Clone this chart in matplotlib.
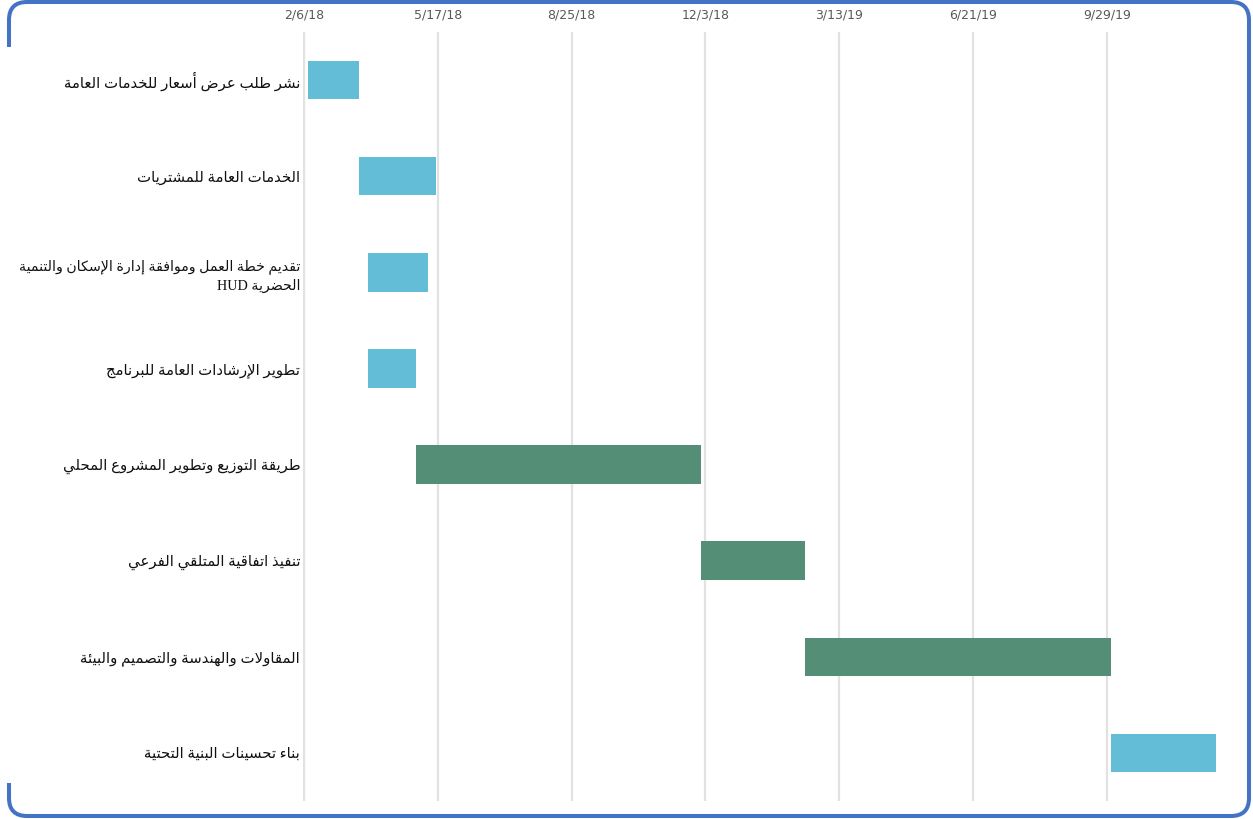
import matplotlib
matplotlib.use("Agg")
import matplotlib.pyplot as plt
import matplotlib.dates as mdates
from matplotlib.patches import FancyBboxPatch, Rectangle
import pandas as pd

# ------------------------------
# DATA
# ------------------------------
tasks = [
    "نشر طلب عرض أسعار للخدمات العامة",
    "الخدمات العامة للمشتريات",
    "تقديم خطة العمل وموافقة إدارة الإسكان والتنمية\nالحضرية HUD",
    "تطوير الإرشادات العامة للبرنامج",
    "طريقة التوزيع وتطوير المشروع المحلي",
    "تنفيذ اتفاقية المتلقي الفرعي",
    "المقاولات والهندسة والتصميم والبيئة",
    "بناء تحسينات البنية التحتية",
]
start_dates = ["2018-02-09", "2018-03-19", "2018-03-26", "2018-03-26",
               "2018-05-01", "2018-11-30", "2019-02-15", "2019-10-02"]
end_dates = ["2018-03-19", "2018-05-16", "2018-05-10", "2018-05-01",
             "2018-11-30", "2019-02-15", "2019-10-02", "2019-12-19"]
phase = ["blue", "blue", "blue", "blue", "green", "green", "green", "blue"]

tick_labels = ["2/6/18", "5/17/18", "8/25/18", "12/3/18", "3/13/19", "6/21/19", "9/29/19"]
axis_start = "2018-02-06"
axis_end = "2020-01-07"

COLORS = {"blue": "#63BDD7", "green": "#548E76"}

# ------------------------------
# ARABIC SHAPING (presentation forms + RTL order)
# ------------------------------
# char -> (first presentation-form code point, number of forms)
FORMS = {
    "\u0621": (0xFE80, 1), "\u0622": (0xFE81, 2), "\u0623": (0xFE83, 2),
    "\u0624": (0xFE85, 2), "\u0625": (0xFE87, 2), "\u0626": (0xFE89, 4),
    "\u0627": (0xFE8D, 2), "\u0628": (0xFE8F, 4), "\u0629": (0xFE93, 2),
    "\u062A": (0xFE95, 4), "\u062B": (0xFE99, 4), "\u062C": (0xFE9D, 4),
    "\u062D": (0xFEA1, 4), "\u062E": (0xFEA5, 4), "\u062F": (0xFEA9, 2),
    "\u0630": (0xFEAB, 2), "\u0631": (0xFEAD, 2), "\u0632": (0xFEAF, 2),
    "\u0633": (0xFEB1, 4), "\u0634": (0xFEB5, 4), "\u0635": (0xFEB9, 4),
    "\u0636": (0xFEBD, 4), "\u0637": (0xFEC1, 4), "\u0638": (0xFEC5, 4),
    "\u0639": (0xFEC9, 4), "\u063A": (0xFECD, 4), "\u0641": (0xFED1, 4),
    "\u0642": (0xFED5, 4), "\u0643": (0xFED9, 4), "\u0644": (0xFEDD, 4),
    "\u0645": (0xFEE1, 4), "\u0646": (0xFEE5, 4), "\u0647": (0xFEE9, 4),
    "\u0648": (0xFEED, 2), "\u0649": (0xFEEF, 2), "\u064A": (0xFEF1, 4),
}
LAM_ALEF = {"\u0622": 0xFEF5, "\u0623": 0xFEF7, "\u0625": 0xFEF9, "\u0627": 0xFEFB}


def shape_line(line):
    # merge lam + alef into ligature tokens
    tokens = []
    i = 0
    while i < len(line):
        ch = line[i]
        if ch == "\u0644" and i + 1 < len(line) and line[i + 1] in LAM_ALEF:
            tokens.append((LAM_ALEF[line[i + 1]], 2))
            i += 2
        elif ch in FORMS:
            tokens.append(FORMS[ch])
            i += 1
        else:
            tokens.append(ch)
            i += 1

    out = []
    for k, tok in enumerate(tokens):
        if isinstance(tok, str):
            out.append(tok)
            continue
        base, n = tok
        prev = tokens[k - 1] if k > 0 else None
        nxt = tokens[k + 1] if k + 1 < len(tokens) else None
        joins_prev = isinstance(prev, tuple) and prev[1] == 4
        joins_next = n == 4 and isinstance(nxt, tuple) and nxt[1] > 1
        if joins_prev and joins_next:
            idx = 3
        elif joins_prev:
            idx = 1
        elif joins_next:
            idx = 2
        else:
            idx = 0
        if idx >= n:
            idx = 0
        out.append(chr(base + idx))
    shaped = "".join(out)

    # visual order: reverse runs, keep latin runs left-to-right
    runs, cur, cur_latin = [], "", None
    for ch in shaped:
        is_latin = ch.isascii() and ch.isalnum()
        if cur and is_latin != cur_latin:
            runs.append((cur, cur_latin))
            cur = ""
        cur += ch
        cur_latin = is_latin
    if cur:
        runs.append((cur, cur_latin))
    return "".join(r if lat else r[::-1] for r, lat in reversed(runs))


def shape(text):
    return "\n".join(shape_line(l) for l in text.split("\n"))


# ------------------------------
# PLOT
# ------------------------------
starts = pd.to_datetime(start_dates)
ends = pd.to_datetime(end_dates)
left = mdates.date2num(starts)
width = mdates.date2num(ends) - left
ticks = mdates.date2num(pd.to_datetime(tick_labels, format="%m/%d/%y"))

fig = plt.figure(figsize=(12.53, 8.19), dpi=100)
ax = fig.add_axes([303 / 1253, 1 - 801 / 819, (1241 - 303) / 1253, (801 - 32) / 819])

ypos = list(range(len(tasks)))
ax.barh(ypos, width, left=left, height=0.4,
        color=[COLORS[p] for p in phase], zorder=3)

ax.set_xlim(mdates.date2num(pd.Timestamp(axis_start)) - 0.6,
            mdates.date2num(pd.Timestamp(axis_end)))
ax.set_ylim(len(tasks) - 0.5, -0.5)

ax.xaxis.tick_top()
ax.set_xticks(ticks)
ax.set_xticklabels(tick_labels, fontsize=9, color="#595959", family="DejaVu Sans")
ax.tick_params(axis="x", length=0, pad=7.5)
ax.grid(axis="x", color="#E2E2E2", linewidth=1.6, zorder=0)

ax.set_yticks(ypos)
ylabels = ax.set_yticklabels([shape(t) for t in tasks], fontsize=10.7, color="#111111",
                             family=["Liberation Serif", "DejaVu Sans"], ha="right",
                             multialignment="right", linespacing=1.45)
ylabels[2].set_fontsize(10.2)  # the long two-line label
ax.tick_params(axis="y", length=0, pad=2)

for s in ax.spines.values():
    s.set_visible(False)

# rounded frame around the chart, kept beneath the labels
frame = FancyBboxPatch((0.09, 0.03), 12.40, 8.14,
                       boxstyle="round,pad=0,rounding_size=0.18",
                       transform=fig.dpi_scale_trans, fill=False,
                       edgecolor="#4472C4", linewidth=2.9, zorder=-2)
fig.patches.append(frame)
fig.patches.append(Rectangle((0.03, 0.36), 0.13, 7.36, transform=fig.dpi_scale_trans,
                             facecolor="white", edgecolor="none", zorder=-1))

fig.savefig("out.png", dpi=100, facecolor="white")
